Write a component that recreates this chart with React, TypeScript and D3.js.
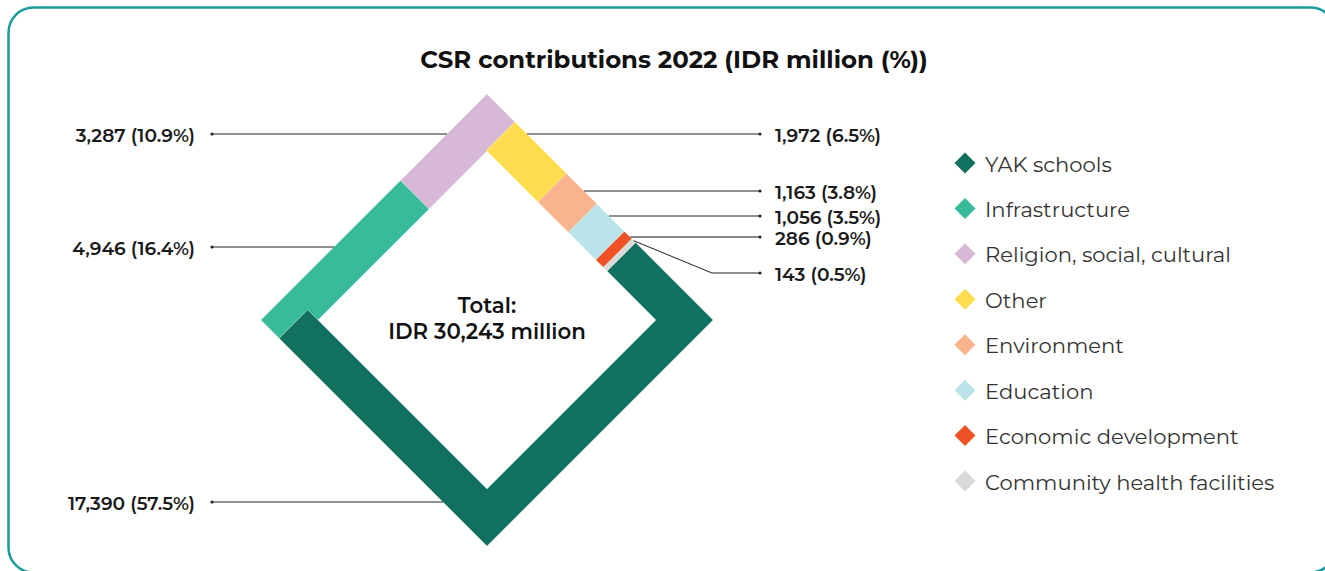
import * as d3 from "d3";

// ── Data ──────────────────────────────────────────────────────────────────────

const CATEGORIES = [
  "YAK schools",
  "Infrastructure",
  "Religion, social, cultural",
  "Other",
  "Environment",
  "Education",
  "Economic development",
  "Community health facilities",
];
const VALUES = [17390, 4946, 3287, 1972, 1163, 1056, 286, 143];
const COLORS = ["#11705e", "#38bb9b", "#d8b8d7", "#ffdd4f", "#f9b48d", "#bce3ea", "#ef5126", "#d9d9d9"];

const TITLE = "CSR contributions 2022 (IDR million (%))";

// ── Layout ────────────────────────────────────────────────────────────────────

const W = 1325;
const H = 571;
const CX = 487;
const CY = 320;
const R_OUT = 226; // half diagonal of outer diamond
const R_IN = 169;
const R_MID = (R_OUT + R_IN) / 2;
const SIDE = R_MID * Math.SQRT2;
const PERIM = 4 * SIDE;
const OFF = (R_OUT - R_MID) / 2; // x/y shift from centre line to ring edge (45° sides)
const START = 190; // where the first slice begins, clockwise from the top vertex

// leader lines: side of the chart and y of the line
const LABEL_SIDE = ["left", "left", "left", "right", "right", "right", "right", "right"];
const LABEL_Y = [502, 247, 134, 134, 191, 216, 237, 273];
const LABEL_BEND = [false, false, false, false, false, false, false, true];
const LINE_COLOR = ["#222", "#222", "#222", "#222", "#222", "#222", "#8a8a8a", "#222"];
const LEFT_DOT = 212;
const RIGHT_DOT = 760;
const ELBOW_X = 712;

const FONT = "Montserrat, 'Open Sans', sans-serif";

type Pt = [number, number];

function diamond(r: number): Pt[] {
  return [
    [CX, CY - r],
    [CX + r, CY],
    [CX, CY + r],
    [CX - r, CY],
  ];
}
const VERTS = diamond(R_MID);
const VERTS_OUT = diamond(R_OUT);
const VERTS_IN = diamond(R_IN);
const NORMALS: Pt[] = [
  [1, -1],
  [1, 1],
  [-1, 1],
  [-1, -1],
];

function wrap(s: number) {
  return ((s % PERIM) + PERIM) % PERIM;
}

function sideOf(s: number) {
  return Math.min(3, Math.floor(wrap(s) / SIDE));
}

function pointAt(s: number, side = sideOf(s)): Pt {
  const t = (wrap(s) - side * SIDE) / SIDE;
  const a = VERTS[side];
  const b = VERTS[(side + 1) % 4];
  return [a[0] + (b[0] - a[0]) * t, a[1] + (b[1] - a[1]) * t];
}

function offsetAt(s: number, side: number, sign: number): Pt {
  const p = pointAt(s, side);
  const n = NORMALS[side];
  return [p[0] + sign * n[0] * OFF, p[1] + sign * n[1] * OFF];
}

// polygon of one slice, cut square to the ring at both ends
function slicePolygon(s0: number, s1: number): Pt[] {
  const a = sideOf(s0 + 0.01);
  const b = sideOf(s1 - 0.01);
  const corners: number[] = [];
  let v = (Math.floor(s0 / SIDE) + 1) * SIDE;
  while (v < s1 - 0.01) {
    corners.push(Math.round(v / SIDE) % 4);
    v += SIDE;
  }
  const outer: Pt[] = [offsetAt(s0, a, 1), ...corners.map((c) => VERTS_OUT[c]), offsetAt(s1, b, 1)];
  const inner: Pt[] = [offsetAt(s1, b, -1), ...corners.slice().reverse().map((c) => VERTS_IN[c]), offsetAt(s0, a, -1)];
  return [...outer, ...inner];
}

// x where a horizontal line at y meets the outer diamond
function edgeX(y: number, side: string) {
  const half = R_OUT - Math.abs(y - CY);
  return side === "left" ? CX - half : CX + half;
}

export default function App() {
  const total = d3.sum(VALUES);
  const cum = d3.cumsum(VALUES);
  const starts = [0, ...Array.from(cum).slice(0, -1)];
  const pos = d3.scaleLinear().domain([0, total]).range([START, START + PERIM]);
  const line = d3.line();
  const fmt = d3.format(",");

  const legendY = d3
    .scalePoint<number>()
    .domain(d3.range(CATEGORIES.length))
    .range([163, 481]);

  return (
    <div style={{ position: "absolute", left: 0, top: 0 }}>
      <svg width={W} height={H} style={{ display: "block", background: "#fff" }}>
        <rect x={8.5} y={7.5} width={1327} height={565} rx={25} fill="none" stroke="#1a9b9d" strokeWidth={2.5} />

        <text x={674} y={59} textAnchor="middle" dominantBaseline="central" fontFamily={FONT} fontWeight={700} fontSize={24.4} fill="#111">
          {TITLE}
        </text>

        {/* ring slices */}
        <g>
          {VALUES.map((v, i) => (
            <path
              key={CATEGORIES[i]}
              d={(line(slicePolygon(pos(starts[i]), pos(starts[i] + v))) ?? "") + "Z"}
              fill={COLORS[i]}
              stroke="#ffffff"
              strokeOpacity={0.35}
              strokeWidth={0.5}
            />
          ))}
        </g>

        {/* leader lines and value labels */}
        <g fontFamily={FONT} fontSize={18.6} fontWeight={600} fill="#1a1a1a">
          {VALUES.map((v, i) => {
            const side = LABEL_SIDE[i];
            const y = LABEL_Y[i];
            const dotX = side === "left" ? LEFT_DOT : RIGHT_DOT;
            let pts: Pt[];
            if (LABEL_BEND[i]) {
              const mid = pos(starts[i] + v / 2);
              const a = offsetAt(mid, sideOf(mid), 1);
              pts = [a, [ELBOW_X, y], [dotX, y]];
            } else {
              pts = [[edgeX(y, side), y], [dotX, y]];
            }
            const pct = ((v / total) * 100).toFixed(1);
            const label = `${fmt(v)} (${pct}%)`;
            return (
              <g key={CATEGORIES[i]}>
                <path
                  d={line(pts) ?? ""}
                  fill="none"
                  stroke={LINE_COLOR[i]}
                  strokeWidth={LINE_COLOR[i] === "#222" ? 1 : 1.8}
                />
                <circle cx={dotX} cy={y} r={1.6} fill="#222" />
                <text
                  x={side === "left" ? dotX - 17 : dotX + 15}
                  y={y + 1}
                  textAnchor={side === "left" ? "end" : "start"}
                  dominantBaseline="central"
                >
                  {label}
                </text>
              </g>
            );
          })}
        </g>

        {/* centre total */}
        <g fontFamily={FONT} fontSize={21.3} fontWeight={600} fill="#111" textAnchor="middle">
          <text x={CX} y={305} dominantBaseline="central">
            Total:
          </text>
          <text x={CX} y={331} dominantBaseline="central">
            {`IDR ${fmt(total)} million`}
          </text>
        </g>

        {/* legend */}
        <g fontFamily={FONT} fontSize={21.1} fill="#333">
          {CATEGORIES.map((c, i) => {
            const y = legendY(i) ?? 0;
            return (
              <g key={c} transform={`translate(965,${y})`}>
                <path d="M0,-10.5L10.5,0L0,10.5L-10.5,0Z" fill={COLORS[i]} />
                <text x={20} y={1} dominantBaseline="central">
                  {c}
                </text>
              </g>
            );
          })}
        </g>
      </svg>
    </div>
  );
}
